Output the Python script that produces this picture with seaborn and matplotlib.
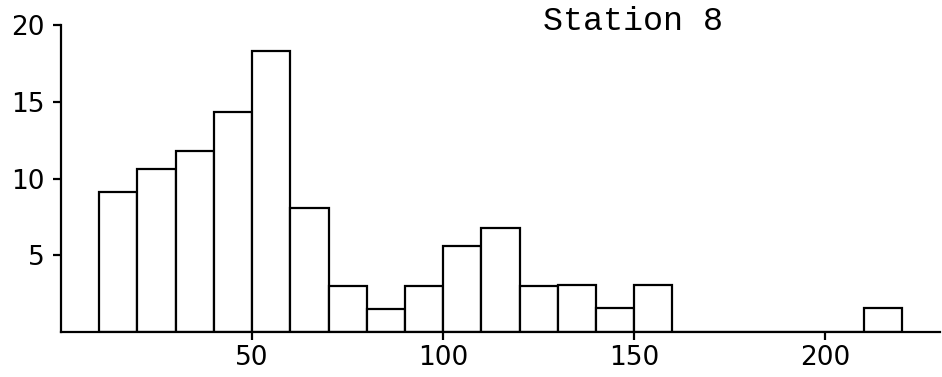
import numpy as np
import pandas as pd
import seaborn as sns
import matplotlib.pyplot as plt

# percent of fish per 10-unit length class, Station 8
bin_left = [10, 20, 30, 40, 50, 60, 70, 80, 90, 100, 110, 120, 130, 140, 150, 210]
percent = [9.1, 10.6, 11.8, 14.3, 18.3, 8.1, 3.0, 1.5, 3.0, 5.6, 6.8, 3.0, 3.1, 1.6, 3.1, 1.6]
x_ticks = [50, 100, 150, 200]
y_ticks = [5, 10, 15, 20]
title = "Station 8"

sns.set_style("ticks")
plt.rcParams['font.family'] = ['DejaVu Sans']

df = pd.DataFrame({"start": bin_left, "pct": percent})

fig = plt.figure(figsize=(9.42, 3.77), dpi=100)
ax = fig.add_axes([0.0648, 0.119, 0.933, 0.815])

sns.histplot(data=df, x="start", weights="pct", binwidth=10, binrange=(10, 220), ax=ax,
             color="white", edgecolor="black", linewidth=1.6, alpha=1)

ax.set_xlim(0, 230)
ax.set_ylim(0, 20)
ax.set_xticks(x_ticks)
ax.set_yticks(y_ticks)
ax.set_xlabel("")
ax.set_ylabel("")
sns.despine(ax=ax)
for s in ["left", "bottom"]:
    ax.spines[s].set_linewidth(1.6)
    ax.spines[s].set_color("black")
ax.tick_params(axis="both", direction="out", length=6, width=1.6, colors="black",
               labelsize=19, bottom=True, left=True)
ax.tick_params(axis="y", pad=6)
ax.tick_params(axis="x", pad=3)

ax.text(126, 20.2, title, fontsize=24, family="Liberation Mono", va="center",
        ha="left", color="black", clip_on=False)

fig.savefig("out.png", dpi=100)
